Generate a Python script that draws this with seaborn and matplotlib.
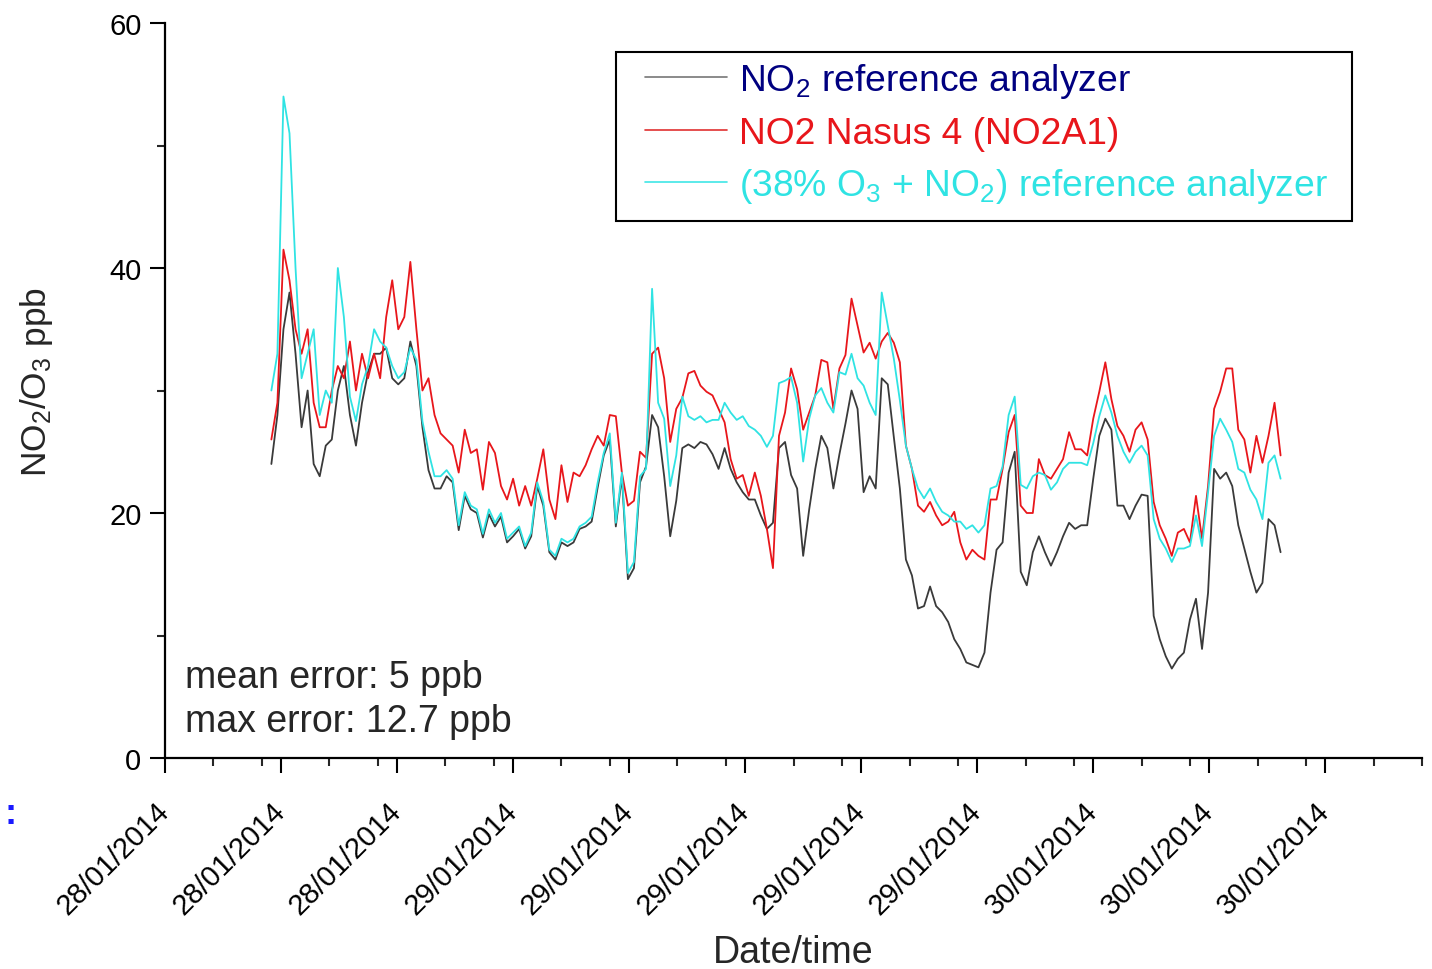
import numpy as np
import pandas as pd
import matplotlib
matplotlib.use("Agg")
import matplotlib.pyplot as plt
import matplotlib.dates as mdates
from matplotlib.ticker import FixedLocator, FuncFormatter
from matplotlib.lines import Line2D
from matplotlib.patches import Rectangle
import seaborn as sns

# ---------------- data ----------------
start_time = "2014-01-28 14:00"
sample_step = "15min"

no2_ref = [24, 28, 35, 38, 33, 27, 30, 24, 23, 25.5,
           26, 30, 32, 28, 25.5, 29, 31.5, 33, 33, 33.5,
           31, 30.5, 31, 34, 32, 27, 23.5, 22, 22, 23,
           22.5, 18.6, 21.4, 20.3, 20, 18, 19.9, 18.9, 19.7, 17.6,
           18.1, 18.7, 17.1, 18.1, 22.2, 20.6, 16.8, 16.2, 17.6, 17.3,
           17.6, 18.7, 18.9, 19.3, 22.1, 24.7, 26, 18.9, 23, 14.6,
           15.5, 22.5, 23.8, 28, 27, 23, 18.1, 21, 25.3, 25.6,
           25.3, 25.8, 25.6, 24.8, 23.6, 25.3, 23.6, 22.5, 21.7, 21.1,
           21.1, 19.8, 18.7, 19.2, 25.3, 25.8, 23.1, 22, 16.5, 20.3,
           23.6, 26.3, 25.3, 22, 24.8, 27.3, 30, 28.5, 21.7, 23,
           22, 31, 30.5, 26.2, 22, 16.2, 14.9, 12.2, 12.4, 14,
           12.4, 11.9, 11.1, 9.7, 8.9, 7.8, 7.6, 7.4, 8.6, 13.5,
           17, 17.6, 23.3, 25, 15.2, 14.1, 16.8, 18.1, 16.8, 15.7,
           16.8, 18.1, 19.2, 18.7, 19, 19, 22.8, 26.3, 27.7, 26.8,
           20.6, 20.6, 19.5, 20.6, 21.5, 21.4, 11.6, 9.7, 8.3, 7.3,
           8.1, 8.6, 11.3, 13, 8.9, 13.5, 23.6, 22.8, 23.3, 22.2,
           19, 17.1, 15.2, 13.5, 14.3, 19.5, 19, 16.8]

no2_nasus = [26, 29, 41.5, 39, 35, 33, 35, 29, 27, 27,
             30, 32, 31, 34, 30, 33, 31, 33, 31, 36,
             39, 35, 36, 40.5, 35, 30, 31, 28, 26.5, 26,
             25.5, 23.3, 26.8, 24.9, 25.2, 21.9, 25.8, 24.9, 22.2, 21.1,
             22.8, 20.6, 22.2, 20.6, 22.8, 25.2, 21.1, 19.5, 23.9, 20.9,
             23.3, 23, 23.9, 25.2, 26.3, 25.5, 28, 27.9, 23.3, 20.6,
             21, 25, 24.5, 33, 33.5, 31, 25.8, 28.5, 29.4, 31.4,
             31.6, 30.4, 29.9, 29.6, 28.5, 27.4, 24.4, 22.8, 23.1, 21.4,
             23.3, 21.4, 18.7, 15.5, 26.3, 28.2, 31.8, 30.1, 26.8, 28.2,
             29.6, 32.5, 32.3, 28.5, 31.8, 32.9, 37.5, 35.3, 33.1, 33.9,
             32.6, 34, 34.7, 33.9, 32.3, 25.5, 23.6, 20.6, 20.1, 20.9,
             19.8, 19, 19.3, 20.1, 17.6, 16.2, 17, 16.5, 16.2, 21.1,
             21.1, 23.6, 26.6, 28, 20.6, 20, 20, 24.4, 23.1, 22.8,
             23.6, 24.4, 26.6, 25.2, 25.2, 24.7, 27.7, 29.9, 32.3, 29.3,
             27.1, 26.3, 25, 26.8, 27.4, 26, 20.9, 19, 17.9, 16.5,
             18.4, 18.7, 17.6, 21.4, 17.9, 22.2, 28.5, 29.9, 31.8, 31.8,
             26.8, 26, 23.3, 26.3, 24.1, 26.3, 29, 24.7]

o3_no2_ref = [30, 33, 54, 51, 40, 31, 33, 35, 28, 30,
              29, 40, 36, 29.5, 27.5, 30.5, 32, 35, 34, 33.5,
              32, 31, 31.5, 33.5, 32.5, 27.5, 25, 23, 23, 23.5,
              22.8, 19, 21.7, 20.6, 20.3, 18.3, 20.3, 19.2, 20, 17.9,
              18.4, 18.9, 17.3, 18.4, 22.5, 20.9, 17, 16.5, 17.9, 17.6,
              17.9, 18.9, 19.2, 19.7, 22.5, 24.9, 26.5, 19.2, 23.3, 15.1,
              16, 23, 23.6, 38.3, 29, 27.7, 22.2, 24.7, 29.5, 27.9,
              27.6, 27.9, 27.4, 27.6, 27.6, 29, 28.2, 27.6, 27.9, 27.1,
              26.8, 26.3, 25.4, 26.3, 30.6, 30.8, 31.1, 29, 24.2, 27.7,
              29.6, 30.2, 29, 28.2, 31.5, 31.3, 33, 31, 30.4, 29,
              28, 38, 35.3, 32.6, 29.2, 25.5, 23.6, 22, 21.2, 22,
              20.9, 20.1, 19.8, 19.3, 19.3, 18.7, 19, 18.4, 19, 22,
              22.2, 23.8, 28, 29.5, 22.3, 22, 23, 23.3, 23.1, 21.9,
              22.5, 23.6, 24.1, 24.1, 24.1, 23.9, 25.7, 27.9, 29.6, 28.2,
              26.3, 25, 24.1, 25, 25.5, 24.7, 19.5, 17.9, 17.1, 16,
              17.1, 17.1, 17.3, 19.8, 17.3, 21.7, 26.3, 27.7, 26.8, 25.8,
              23.6, 23.3, 21.9, 21.1, 19.5, 24.1, 24.7, 22.8]

series_labels = ["NO$_2$ reference analyzer",
                 "NO2 Nasus 4 (NO2A1)",
                 "(38% O$_3$ + NO$_2$) reference analyzer"]
line_colors = ["#3a3a3a", "#e8161b", "#2fe3e3"]
legend_line_colors = ["#777777", "#e03030", "#40e6e6"]
text_colors = ["#000080", "#e8161b", "#2fe3e3"]

y_major_ticks = [0, 20, 40, 60]
y_minor_ticks = [10, 30, 50]
first_x_tick = "2014-01-28 09:36"
n_x_ticks = 11
x_tick_step_hours = 4.8
x_minor_offsets_hours = [2, 4]
x_end = "2014-01-30 13:36"

annotations = ["mean error: 5 ppb", "max error: 12.7 ppb"]

# ---------------- build table ----------------
times = pd.date_range(start_time, periods=len(no2_ref), freq=sample_step)
frames = []
for lab, vals in zip(series_labels, [no2_ref, no2_nasus, o3_no2_ref]):
    frames.append(pd.DataFrame({"time": times, "value": vals, "series": lab}))
df = pd.concat(frames, ignore_index=True)

# ---------------- style ----------------
sns.set_style("ticks")
plt.rcParams["font.family"] = ["Liberation Sans", "DejaVu Sans"]
plt.rcParams["mathtext.fontset"] = "custom"
plt.rcParams["mathtext.rm"] = "Liberation Sans"
plt.rcParams["mathtext.it"] = "Liberation Sans:italic"
plt.rcParams["mathtext.bf"] = "Liberation Sans:bold"

W, H = 1432, 970
fig = plt.figure(figsize=(W / 100, H / 100), dpi=100)
ax = fig.add_axes([165 / W, 1 - 759 / H, (1422 - 165) / W, (759 - 24) / H])

sns.lineplot(data=df, x="time", y="value", hue="series",
             hue_order=series_labels,
             palette=dict(zip(series_labels, line_colors)),
             estimator=None, sort=False, linewidth=1.3, legend=False, ax=ax)

# ---------------- axes ----------------
ax.set_ylim(0, 60)
ax.set_yticks(y_major_ticks)
ax.yaxis.set_minor_locator(FixedLocator(y_minor_ticks))

t0 = pd.Timestamp(first_x_tick)
major_times = [t0 + pd.Timedelta(hours=x_tick_step_hours * i) for i in range(n_x_ticks)]
minor_times = [t + pd.Timedelta(hours=h) for t in major_times for h in x_minor_offsets_hours]
ax.xaxis.set_major_locator(FixedLocator(mdates.date2num(major_times)))
ax.xaxis.set_minor_locator(FixedLocator(mdates.date2num(minor_times)))


def date_label(v, pos):
    d = mdates.num2date(v) + pd.Timedelta(minutes=1)
    return d.strftime("%d/%m/%Y")


ax.xaxis.set_major_formatter(FuncFormatter(date_label))
ax.set_xlim(mdates.date2num(t0), mdates.date2num(pd.Timestamp(x_end)))

sns.despine(ax=ax)
for s in ["left", "bottom"]:
    ax.spines[s].set_linewidth(1.6)
    ax.spines[s].set_color("black")

ax.tick_params(axis="both", which="major", direction="out", length=11, width=1.5,
               labelsize=21, colors="black")
ax.tick_params(axis="both", which="minor", direction="out", length=6, width=1.5)
ax.tick_params(axis="y", which="major", pad=6)
ax.tick_params(axis="x", which="major", pad=24)
for lbl in ax.get_xticklabels():
    lbl.set_rotation(45)
    lbl.set_ha("right")
    lbl.set_va("center")
    lbl.set_rotation_mode("anchor")

ax.set_xlabel("Date/time", fontsize=27)
ax.set_ylabel("NO$_2$/O$_3$ ppb", fontsize=25.5)
ax.xaxis.set_label_coords(0.5, (759 - 935) / 735)
ax.xaxis.label.set_va("top")
ax.yaxis.set_label_coords((55 - 165) / 1257, (759 - 382) / 735)

# ---------------- legend ----------------
ax.add_patch(Rectangle((616 / W, 1 - 222 / H), (1352 - 616) / W, (222 - 53) / H,
                       transform=fig.transFigure, facecolor="white",
                       edgecolor="black", linewidth=1.5, zorder=4, clip_on=False))
handles = [Line2D([], [], color=c, linewidth=1.2) for c in legend_line_colors]
leg = ax.legend(handles, series_labels, loc="upper left",
                bbox_to_anchor=(645 / W, 1 - 62 / H), bbox_transform=fig.transFigure,
                borderaxespad=0, borderpad=0, fontsize=26.8, frameon=False,
                handlelength=2.2, handletextpad=0.32, labelspacing=0.42)
leg.set_zorder(6)
for t, c in zip(leg.get_texts(), text_colors):
    t.set_color(c)

# ---------------- annotations ----------------
ax.text((185 - 165) / 1257, (759 - 678) / 735, annotations[0], transform=ax.transAxes,
        fontsize=27, va="center", ha="left")
ax.text((185 - 165) / 1257, (759 - 722) / 735, annotations[1], transform=ax.transAxes,
        fontsize=27, va="center", ha="left")
fig.text(4 / W, 1 - 815 / H, ":", color="#1a1aff", fontsize=26, fontweight="bold",
         va="center", ha="left")

fig.savefig("out.png", dpi=100)
